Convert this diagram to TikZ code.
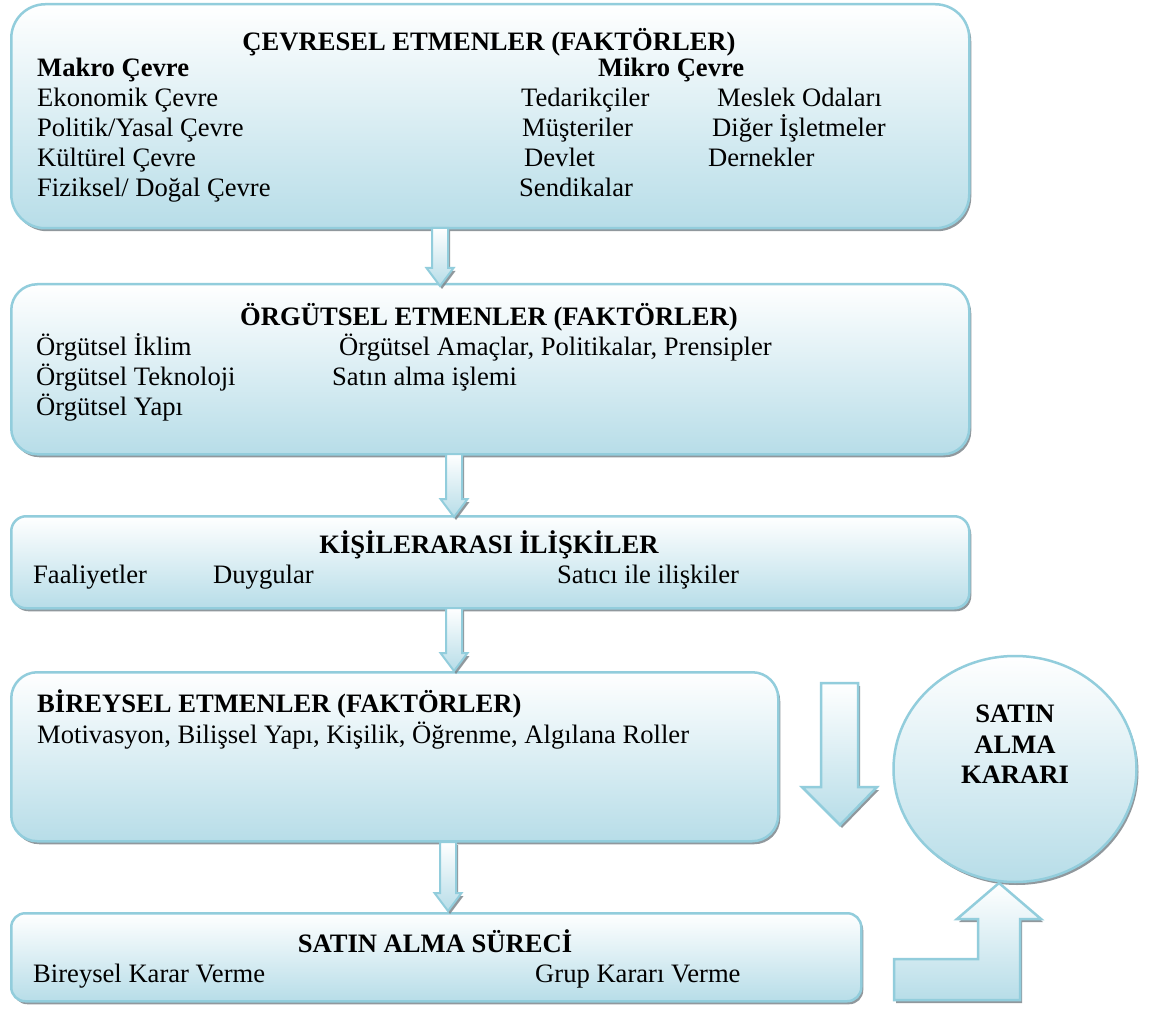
\documentclass[tikz,border=0pt]{standalone}
\usepackage{fontspec}
\setmainfont{Liberation Serif}
\usetikzlibrary{shadows,shapes.geometric}
\definecolor{edgeblue}{RGB}{146,205,220}
\definecolor{fillblue}{RGB}{183,221,232}
\definecolor{shadowgray}{RGB}{125,135,140}
\begin{document}
\begin{tikzpicture}[x=1pt,y=-1pt,
  shade/.style={top color=white, bottom color=fillblue},
  castshadow/.style={drop shadow={shadow xshift=2pt, shadow yshift=-3pt, fill=shadowgray, opacity=0.85}},
  panel/.style={draw=edgeblue, line width=2.5pt, shade, castshadow, anchor=north west, inner sep=0pt},
  blockarrow/.style={draw=edgeblue, line width=2pt, line join=miter, shade, castshadow},
  txt/.style={anchor=base west, inner sep=0pt, font=\fontsize{26.6}{30}\selectfont},
  btxt/.style={anchor=base west, inner sep=0pt, font=\fontsize{26.6}{30}\selectfont\bfseries},
  ttl/.style={anchor=base, inner sep=0pt, font=\fontsize{26.6}{30}\selectfont\bfseries}]

\fill[white] (0,0) rectangle (1152,1019);
\useasboundingbox (0,0) rectangle (1152,1019);

% panels
\node[panel, rounded corners=34pt, minimum width=958pt, minimum height=224pt] (env)   at (10,3)   {};
\node[panel, rounded corners=26pt, minimum width=958pt, minimum height=170pt] (org)   at (10,283) {};
\node[panel, rounded corners=15pt, minimum width=958pt, minimum height=92pt]  (inter) at (10,515) {};
\node[panel, rounded corners=26pt, minimum width=767pt, minimum height=169pt] (indiv) at (10,671) {};
\node[panel, rounded corners=14pt, minimum width=850pt, minimum height=88pt]  (proc)  at (10,912) {};
\node[panel, ellipse, anchor=center, minimum width=243pt, minimum height=226pt] (dec) at (1015,769) {};

% small arrows between the panels
\draw[blockarrow] (432,228) -- (432,268) -- (426.5,268) -- (440,286) -- (453.5,268) -- (448,268) -- (448,228) -- cycle;
\draw[blockarrow] (446,454) -- (446,499) -- (440.5,499) -- (454,517) -- (467.5,499) -- (462,499) -- (462,454) -- cycle;
\draw[blockarrow] (446,608) -- (446,653) -- (440.5,653) -- (454,671) -- (467.5,653) -- (462,653) -- (462,608) -- cycle;
\draw[blockarrow] (440,842) -- (440,893) -- (434.5,893) -- (448,911) -- (461.5,893) -- (456,893) -- (456,842) -- cycle;

% large down arrow
\draw[blockarrow, line width=2.5pt] (821,683) -- (821,787) -- (802,787) -- (840,825) -- (877,787) -- (858,787) -- (858,683) -- cycle;

% bent arrow up to the decision
\draw[blockarrow, line width=2.5pt] (894,959) -- (978,959) -- (978,919) -- (957,919) -- (999,883) -- (1041,919) -- (1020,919) -- (1020,1000) -- (894,1000) -- cycle;

% environment factors
\node[ttl] (envT) at (489,51) {ÇEVRESEL ETMENLER (FAKTÖRLER)};
\node[btxt] (makro) at (37,77) {Makro Çevre};
\node[txt] (m1) at (37,107) {Ekonomik Çevre};
\node[txt] (m2) at (37,137) {Politik/Yasal Çevre};
\node[txt] (m3) at (37,167) {Kültürel Çevre};
\node[txt] (m4) at (37,197) {Fiziksel/ Doğal Çevre};
\node[btxt] (mikro) at (598,77) {Mikro Çevre};
\node[txt] (k1) at (521,107) {Tedarikçiler};
\node[txt] (k2) at (717,107) {Meslek Odaları};
\node[txt] (k3) at (522,137) {Müşteriler};
\node[txt] (k4) at (712,137) {Diğer İşletmeler};
\node[txt] (k5) at (524,167) {Devlet};
\node[txt] (k6) at (708,167) {Dernekler};
\node[txt] (k7) at (519,197) {Sendikalar};

% organisational factors
\node[ttl] (orgT) at (489,325) {ÖRGÜTSEL ETMENLER (FAKTÖRLER)};
\node[txt] (o1) at (36,355) {Örgütsel İklim};
\node[txt] (o2) at (36,385) {Örgütsel Teknoloji};
\node[txt] (o3) at (36,415) {Örgütsel Yapı};
\node[txt] (o4) at (339,355) {Örgütsel Amaçlar, Politikalar, Prensipler};
\node[txt] (o5) at (332,385) {Satın alma işlemi};

% interpersonal relations
\node[ttl] (interT) at (489,553) {KİŞİLERARASI İLİŞKİLER};
\node[txt] (i1) at (33,583) {Faaliyetler};
\node[txt] (i2) at (213,583) {Duygular};
\node[txt] (i3) at (557,583) {Satıcı ile ilişkiler};

% individual factors
\node[btxt] (indivT) at (37,712) {BİREYSEL ETMENLER (FAKTÖRLER)};
\node[txt] (b1) at (37,743) {Motivasyon, Bilişsel Yapı, Kişilik, Öğrenme, Algılana Roller};

% buying process
\node[ttl] (procT) at (435,952) {SATIN ALMA SÜRECİ};
\node[txt] (p1) at (33,982) {Bireysel Karar Verme};
\node[txt] (p2) at (535,982) {Grup Kararı Verme};

% decision
\node[ttl] (d1) at (1015,722) {SATIN};
\node[ttl] (d2) at (1015,753) {ALMA};
\node[ttl] (d3) at (1015,783) {KARARI};
\end{tikzpicture}
\end{document}
